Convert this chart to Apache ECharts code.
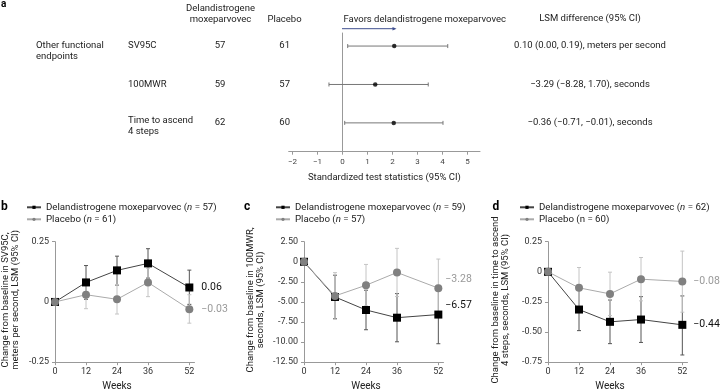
<!DOCTYPE html>
<html>
<head>
<meta charset="utf-8">
<script src="https://cdn.jsdelivr.net/npm/echarts@6/dist/echarts.min.js"></script>
<style>html,body{margin:0;padding:0;background:#fff}#c{width:720px;height:391px}</style>
</head>
<body>
<div id="c"></div>
<script>
// ---------- Panel a (forest plot) ----------
const endpoints = ['SV95C', '100MWR', 'Time to ascend\n4 steps'];
const nDel = [57, 59, 62];
const nPla = [61, 57, 60];
const stat = [2.07, 1.31, 2.05];
const statLow = [0.21, -0.54, 0.09];
const statHigh = [4.21, 3.43, 4.02];
const lsmText = ['0.10 (0.00, 0.19), meters per second', '\u22123.29 (\u22128.28, 1.70), seconds', '\u22120.36 (\u22120.71, \u22120.01), seconds'];
const forestTicks = [-2, -1, 0, 1, 2, 3, 4, 5];

// ---------- Panels b-d ----------
const weeks = [0, 12, 24, 36, 52];
// b: SV95C
const svDelMean = [0, 0.081, 0.131, 0.160, 0.06];
const svDelLow = [0, 0.011, 0.070, 0.099, -0.010];
const svDelHigh = [0, 0.151, 0.190, 0.221, 0.132];
const svPlaMean = [0, 0.030, 0.011, 0.081, -0.03];
const svPlaLow = [0, -0.028, -0.050, 0.022, -0.088];
const svPlaHigh = [0, 0.088, 0.072, 0.140, 0.030];
// c: 100MWR
const mwrDelMean = [0, -4.38, -6.00, -6.96, -6.57];
const mwrDelLow = [0, -7.08, -8.46, -9.96, -10.2];
const mwrDelHigh = [0, -1.67, -3.54, -3.96, -2.94];
const mwrPlaMean = [0, -4.25, -2.92, -1.33, -3.28];
const mwrPlaLow = [0, -7.15, -5.50, -4.33, -6.90];
const mwrPlaHigh = [0, -1.35, -0.33, 1.67, 0.34];
// d: time to ascend 4 steps
const stepDelMean = [0, -0.313, -0.415, -0.396, -0.44];
const stepDelLow = [0, -0.488, -0.596, -0.586, -0.69];
const stepDelHigh = [0, -0.138, -0.234, -0.206, -0.20];
const stepPlaMean = [0, -0.133, -0.183, -0.061, -0.08];
const stepPlaLow = [0, -0.302, -0.363, -0.241, -0.335];
const stepPlaHigh = [0, 0.036, -0.003, 0.119, 0.172];

const panels = [
  {del:[svDelMean, svDelLow, svDelHigh], pla:[svPlaMean, svPlaLow, svPlaHigh],
   delName:'Delandistrogene moxeparvovec (n = 57)', plaName:'Placebo (n = 61)',
   yName:'Change from baseline in SV95C,\nmeters per second, LSM (95% CI)',
   ymin:-0.25, ymax:0.25, yint:0.25, left:55, titleX:11, labOff:[0,0], labDist:8},
  {del:[mwrDelMean, mwrDelLow, mwrDelHigh], pla:[mwrPlaMean, mwrPlaLow, mwrPlaHigh],
   delName:'Delandistrogene moxeparvovec (n = 59)', plaName:'Placebo (n = 57)',
   yName:'Change from baseline in 100MWR,\nseconds, LSM (95% CI)',
   ymin:-12.5, ymax:2.5, yint:2.5, left:304, titleX:255.5, labOff:[0,-9], labDist:3},
  {del:[stepDelMean, stepDelLow, stepDelHigh], pla:[stepPlaMean, stepPlaLow, stepPlaHigh],
   delName:'Delandistrogene moxeparvovec (n = 62)', plaName:'Placebo (n = 60)',
   yName:'Change from baseline in time to ascend\n4 steps, seconds, LSM (95% CI)',
   ymin:-0.75, ymax:0.25, yint:0.25, left:548, titleX:501, labOff:[0,0], labDist:7}
];

const FONT = 'Roboto';
const TXT = '#222';
const AX = '#999';
const fmtNum = v => (v === 0 ? '0' : v.toFixed(2));
const fmtLab = v => v.toFixed(2).replace('-', '\u2212');

const grids = [{left:288.7, top:33, width:191.3, height:118.7}];
const xAxes = [{
  gridIndex:0, type:'value', min:-2.15, max:5.5,
  axisLine:{onZero:false, lineStyle:{color:AX}}, splitLine:{show:false},
  axisTick:{customValues:forestTicks, length:3, lineStyle:{color:AX}},
  axisLabel:{customValues:forestTicks, fontSize:8, color:'#444', margin:6, fontFamily:FONT,
    formatter:v => String(v).replace('-', '\u2212')},
  name:'Standardized test statistics (95% CI)', nameLocation:'middle', nameGap:21,
  nameTextStyle:{fontSize:9.5, color:TXT, fontFamily:FONT}
}];
const yAxes = [{
  gridIndex:0, type:'value', min:0.66, max:3.75, inverse:true,
  axisLine:{show:true, onZero:true, lineStyle:{color:AX}},
  axisTick:{show:false}, axisLabel:{show:false}, splitLine:{show:false}
}];
const series = [];
const legends = [];

// forest CI lines
series.push({
  type:'custom', xAxisIndex:0, yAxisIndex:0, z:2,
  data: endpoints.map((e, i) => [i + 1, statLow[i], statHigh[i]]),
  renderItem: (params, api) => {
    const p1 = api.coord([api.value(1), api.value(0)]);
    const p2 = api.coord([api.value(2), api.value(0)]);
    const st = {stroke:'#777', lineWidth:1};
    return {type:'group', children:[
      {type:'line', shape:{x1:p1[0], y1:p1[1], x2:p2[0], y2:p2[1]}, style:st},
      {type:'line', shape:{x1:p1[0], y1:p1[1]-2, x2:p1[0], y2:p1[1]+2}, style:st},
      {type:'line', shape:{x1:p2[0], y1:p2[1]-2, x2:p2[0], y2:p2[1]+2}, style:st}
    ]};
  }
});
series.push({
  type:'scatter', xAxisIndex:0, yAxisIndex:0, z:3, symbol:'circle', symbolSize:4.5,
  itemStyle:{color:'#000'},
  data: endpoints.map((e, i) => [stat[i], i + 1])
});

function errSeries(ai, low, high, color) {
  return {
    type:'custom', xAxisIndex:ai, yAxisIndex:ai, z:1, clip:false,
    data: weeks.map((w, i) => [w, low[i], high[i]]).filter((d, i) => i > 0),
    renderItem: (params, api) => {
      const t = api.coord([api.value(0), api.value(2)]);
      const b = api.coord([api.value(0), api.value(1)]);
      const st = {stroke:color, lineWidth:1};
      return {type:'group', children:[
        {type:'line', shape:{x1:t[0], y1:t[1], x2:b[0], y2:b[1]}, style:st},
        {type:'line', shape:{x1:t[0]-2, y1:t[1], x2:t[0]+2, y2:t[1]}, style:st},
        {type:'line', shape:{x1:b[0]-2, y1:b[1], x2:b[0]+2, y2:b[1]}, style:st}
      ]};
    }
  };
}

panels.forEach((p, k) => {
  const ai = k + 1;
  grids.push({left:p.left, top:241.7, width:139.5, height:120.5});
  xAxes.push({
    gridIndex:ai, type:'value', min:0, max:54,
    axisLine:{onZero:false, lineStyle:{color:AX}}, splitLine:{show:false},
    axisTick:{customValues:weeks, length:3, lineStyle:{color:AX}},
    axisLabel:{customValues:weeks, fontSize:9, color:'#333', margin:5, fontFamily:FONT}
  });
  yAxes.push({
    gridIndex:ai, type:'value', min:p.ymin, max:p.ymax, interval:p.yint,
    axisLine:{show:true, onZero:false, lineStyle:{color:AX}}, splitLine:{show:false},
    axisTick:{length:3, lineStyle:{color:AX}},
    axisLabel:{fontSize:9, color:'#333', margin:6, fontFamily:FONT, formatter:fmtNum}
  });
  series.push(errSeries(ai, p.del[1], p.del[2], '#555'));
  series.push(errSeries(ai, p.pla[1], p.pla[2], '#c4c4c4'));
  const mk = (arr, labColor) => weeks.map((w, i) => {
    const d = {value:[w, arr[i]]};
    if (i === weeks.length - 1) {
      d.label = {show:true, position:'right', distance:p.labDist, offset:p.labOff,
        formatter:fmtLab(arr[i]), color:labColor, fontSize:10.5, fontFamily:FONT};
    }
    return d;
  });
  series.push({
    name:p.delName, type:'line', xAxisIndex:ai, yAxisIndex:ai, z:3, clip:false,
    symbol:'rect', symbolSize:8,
    lineStyle:{color:'#444', width:1}, itemStyle:{color:'#000'},
    data: mk(p.del[0], '#111')
  });
  series.push({
    name:p.plaName, type:'line', xAxisIndex:ai, yAxisIndex:ai, z:4, clip:false,
    symbol:'circle', symbolSize:8,
    lineStyle:{color:'#aaa', width:1}, itemStyle:{color:'#808080'},
    data: mk(p.pla[0], '#999')
  });
  legends.push({
    data:[p.delName, p.plaName], orient:'vertical', left:p.left - 29, top:201.3, padding:0,
    itemWidth:14, itemHeight:4, itemGap:0, selectedMode:false,
    textStyle:{fontSize:9.7, color:TXT, fontFamily:FONT, lineHeight:12,
      rich:{i:{fontStyle:'italic', fontSize:9.7, color:TXT, fontFamily:FONT}}},
    formatter: name => (name === 'Placebo (n = 60)') ? name : name.replace('(n =', '({i|n} =')
  });
});

const chart = echarts.init(document.getElementById('c'), null, {renderer:'canvas'});
chart.setOption({
  animation:false,
  textStyle:{fontFamily:FONT},
  grid:grids, xAxis:xAxes, yAxis:yAxes, series:series, legend:legends
});

// Texts placed from the library's own scales
const rowY = endpoints.map((e, i) => chart.convertToPixel({yAxisIndex:0}, i + 1));
const tx = (text, x, y, align) => ({
  type:'text', x:x, y:y,
  style:{text:text, fill:TXT, font:'9.5px ' + FONT, align:align || 'left', verticalAlign:'middle', lineHeight:11}
});
const gfx = [
  {type:'text', x:1, y:4, style:{text:'a', fill:'#000', font:'bold 10px ' + FONT, verticalAlign:'middle'}},
  {type:'text', x:1, y:207, style:{text:'b', fill:'#000', font:'bold 12px ' + FONT, verticalAlign:'middle'}},
  {type:'text', x:244, y:207, style:{text:'c', fill:'#000', font:'bold 12px ' + FONT, verticalAlign:'middle'}},
  {type:'text', x:492.5, y:207, style:{text:'d', fill:'#000', font:'bold 12px ' + FONT, verticalAlign:'middle'}},
  tx('Delandistrogene\nmoxeparvovec', 220.5, 14, 'center'),
  tx('Placebo', 284.5, 20, 'center'),
  tx('Favors delandistrogene moxeparvovec', 343.5, 19.3, 'left'),
  tx('LSM difference (95% CI)', 590, 19, 'center'),
  tx('Other functional\nendpoints', 36, rowY[0] + 5.5, 'left'),
  {type:'line', shape:{x1:342, y1:28.7, x2:395, y2:28.7}, style:{stroke:'#3f4f8f', lineWidth:1}},
  {type:'polygon', shape:{points:[[396.5, 28.7], [392.5, 27], [392.5, 30.4]]}, style:{fill:'#3f4f8f'}}
];
endpoints.forEach((e, i) => {
  const y = rowY[i];
  const multi = e.indexOf('\n') >= 0;
  gfx.push(tx(e, 128, multi ? y + 3.5 : y, 'left'));
  gfx.push(tx(String(nDel[i]), 220, y, 'center'));
  gfx.push(tx(String(nPla[i]), 284.7, y, 'center'));
  gfx.push(tx(lsmText[i], 590, y, 'center'));
});
// axis titles for panels b-d
panels.forEach((p, k) => {
  const ai = k + 1;
  const wx = chart.convertToPixel({xAxisIndex:ai}, 24);
  const yBottom = chart.convertToPixel({yAxisIndex:ai}, p.ymin);
  const yMid = chart.convertToPixel({yAxisIndex:ai}, (p.ymin + p.ymax) / 2);
  gfx.push({type:'text', x:wx, y:yBottom + 24.5,
    style:{text:'Weeks', fill:TXT, font:'10px ' + FONT, align:'center', verticalAlign:'middle'}});
  gfx.push({type:'text', x:p.titleX, y:yMid - 2, rotation:Math.PI / 2,
    style:{text:p.yName, fill:TXT, font:'9.5px ' + FONT, align:'center', verticalAlign:'middle', lineHeight:10}});
});
chart.setOption({graphic:gfx});
</script>
</body>
</html>
